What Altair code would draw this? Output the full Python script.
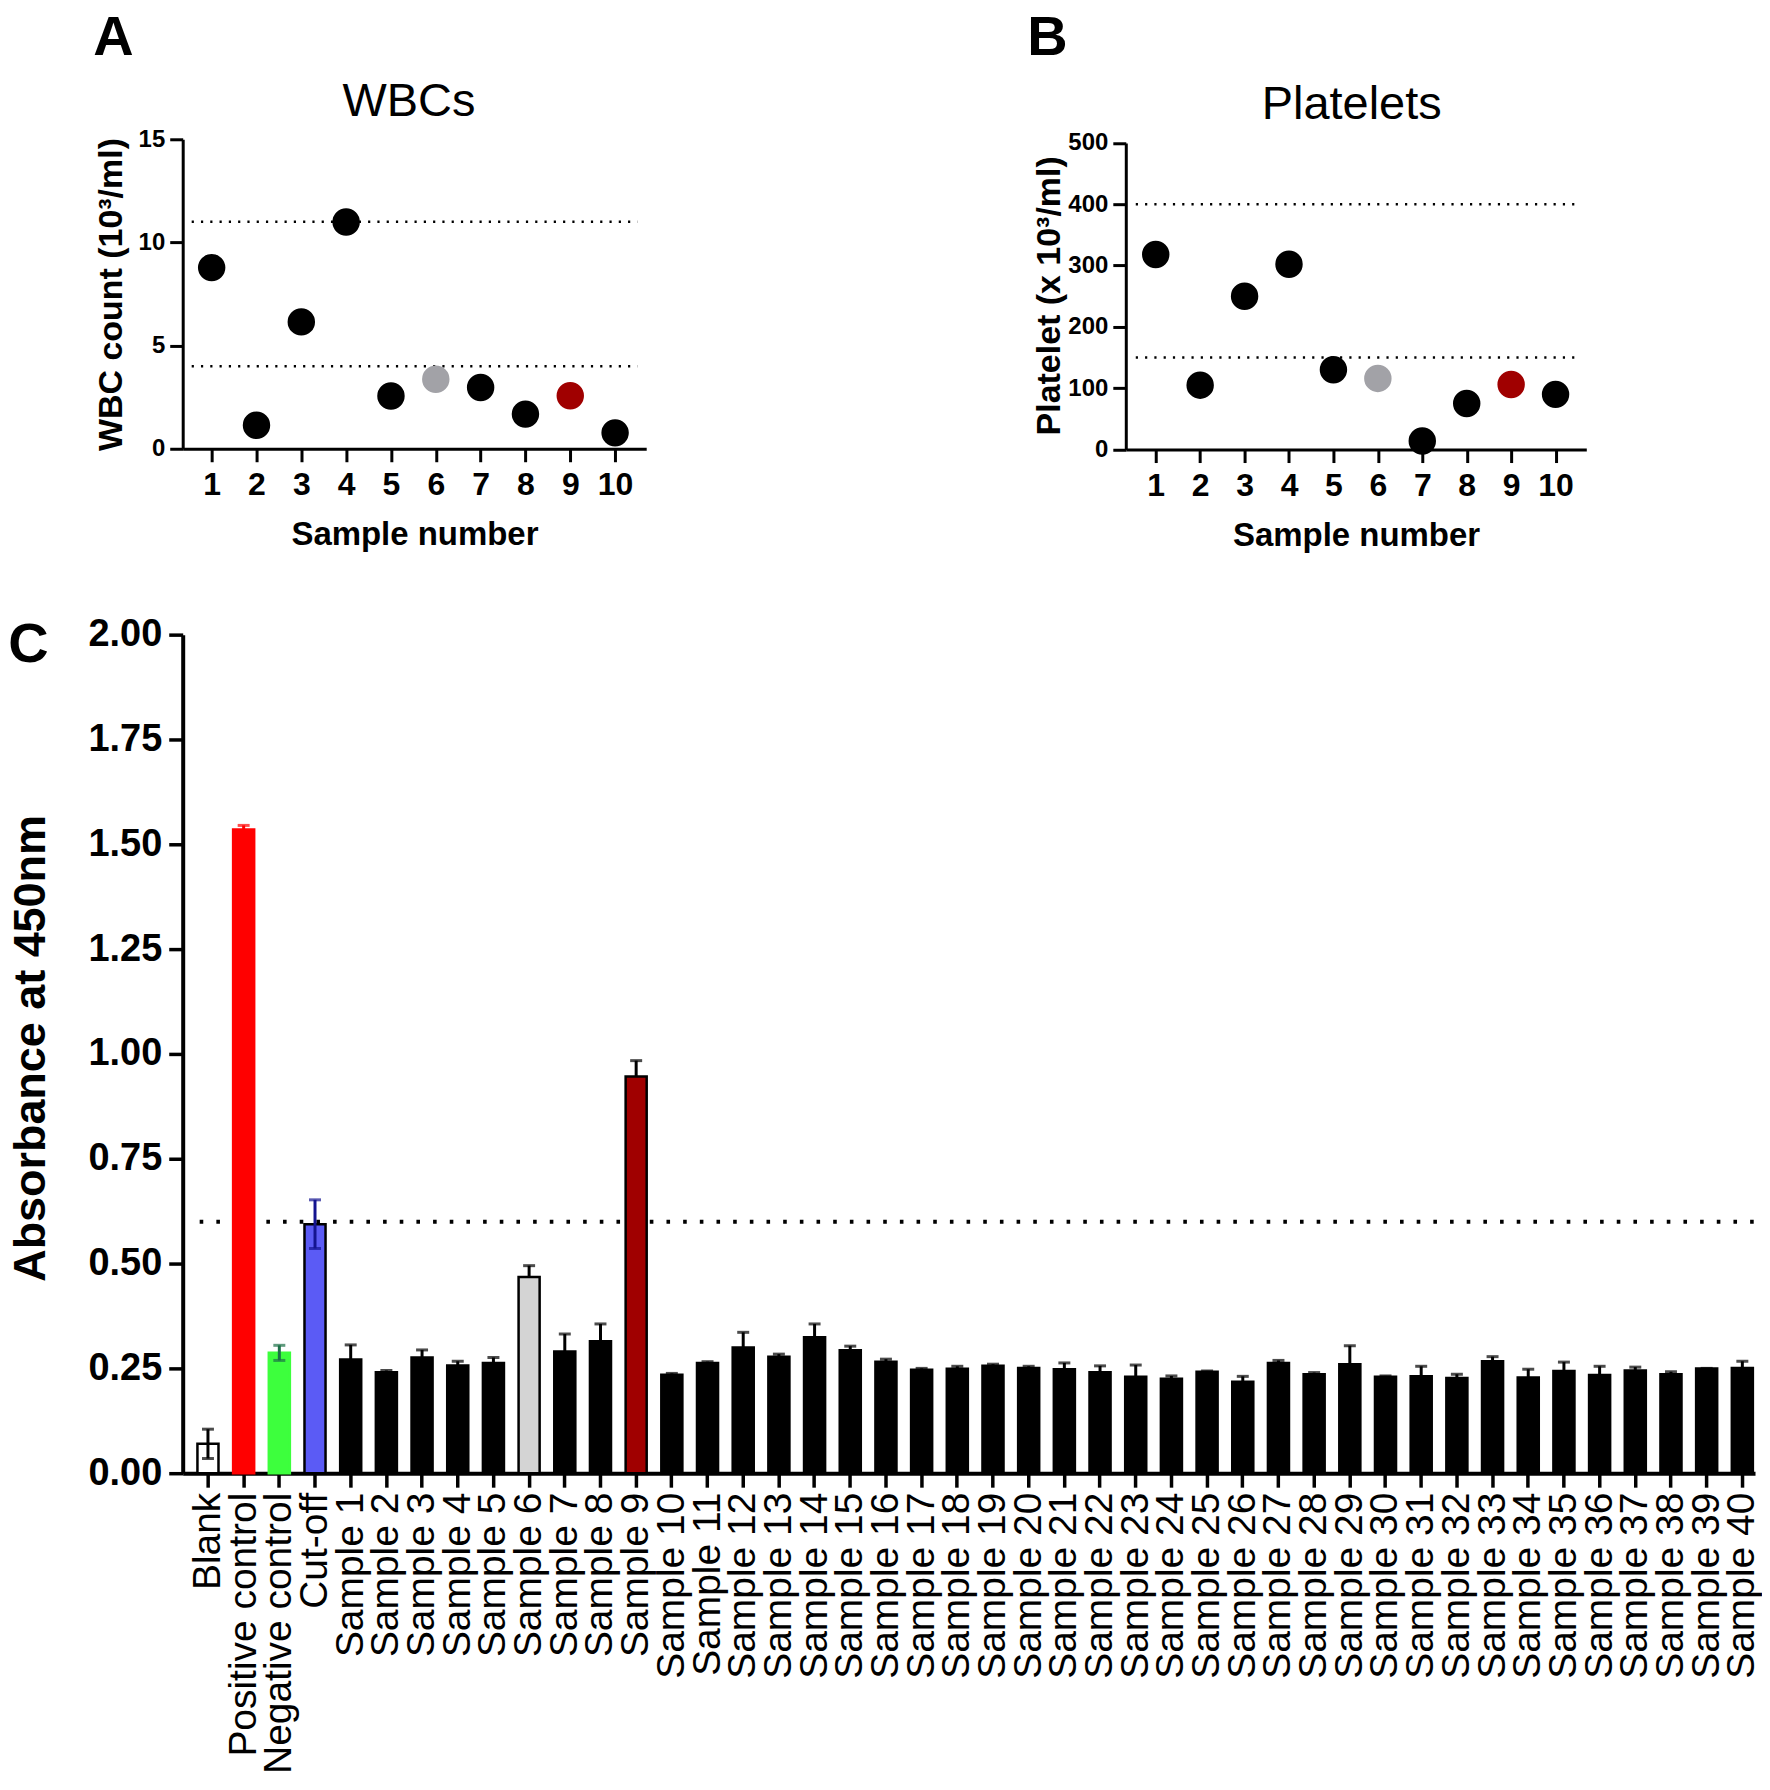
import altair as alt
import pandas as pd

# ---------------- data ----------------
sample_numbers = [1, 2, 3, 4, 5, 6, 7, 8, 9, 10]
wbc_counts = [8.78, 1.14, 6.15, 10.99, 2.56, 3.37, 2.97, 1.68, 2.57, 0.77]
platelet_counts = [318, 105, 250, 302, 130, 116, 14, 75, 106, 90]
point_group = ["other", "other", "other", "other", "other",
               "sample6", "other", "other", "sample9", "other"]
wbc_reference_limits = [4, 11]
platelet_reference_limits = [150, 400]

elisa_labels = ["Blank", "Positive control", "Negative control", "Cut-off"] + \
    [f"Sample {i}" for i in range(1, 41)]
elisa_means = [0.070, 1.535, 0.287, 0.594,
               0.271, 0.241, 0.276, 0.257, 0.263, 0.468, 0.290, 0.315, 0.946, 0.235,
               0.263, 0.300, 0.278, 0.324, 0.293, 0.266, 0.247, 0.249, 0.256, 0.251,
               0.248, 0.241, 0.230, 0.225, 0.242, 0.218, 0.263, 0.236, 0.260, 0.230,
               0.231, 0.227, 0.267, 0.228, 0.244, 0.234, 0.245, 0.236, 0.250, 0.251]
elisa_sd = [0.035, 0.010, 0.018, 0.058,
            0.035, 0.004, 0.018, 0.010, 0.013, 0.027, 0.042, 0.041, 0.038, 0.003,
            0.003, 0.036, 0.006, 0.032, 0.010, 0.006, 0.003, 0.006, 0.004, 0.004,
            0.015, 0.015, 0.028, 0.007, 0.002, 0.013, 0.006, 0.004, 0.044, 0.002,
            0.024, 0.009, 0.011, 0.020, 0.021, 0.021, 0.008, 0.006, 0.000, 0.016]
two_sided_error = ["Blank", "Negative control", "Cut-off"]
cutoff_value = [0.6]

# ---------------- styles ----------------
FONT = "Liberation Sans"
group_domain = ["other", "sample6", "sample9"]
group_colors = ["#000000", "#a2a2a7", "#a00000"]

fill_override = {"Blank": "#ffffff", "Positive control": "#ff0000",
                 "Negative control": "#3dff3d", "Cut-off": "#5b5bf5",
                 "Sample 6": "#d4d4d4", "Sample 9": "#a00000"}
stroke_override = {"Positive control": "#ff0000", "Negative control": "#3dff3d"}
err_override = {"Positive control": "#ff0000", "Negative control": "#1d7047",
                "Cut-off": "#141490"}
fill_range = [fill_override.get(l, "#000000") for l in elisa_labels]
stroke_range = [stroke_override.get(l, "#000000") for l in elisa_labels]
err_range = [err_override.get(l, "#000000") for l in elisa_labels]


def text_layer(txt, x, y, size, weight="normal", baseline="alphabetic", align="center"):
    return alt.Chart(pd.DataFrame({"t": [txt]})).mark_text(
        font=FONT, fontSize=size, fontWeight=weight, baseline=baseline,
        align=align, color="black"
    ).encode(text="t:N", x=alt.value(x), y=alt.value(y))


def scatter_panel(values, limits, y_max, y_step, y_title, panel_title, letter, *,
                  width, height, x_domain, y_range, ytitle_x, ytitle_y,
                  title_x, title_y, letter_x, line_x1, line_x2, anchor=False):
    df = pd.DataFrame({"sample": sample_numbers, "value": values, "group": point_group})
    lim = pd.DataFrame({"limit": limits})
    xaxis = alt.Axis(values=sample_numbers, format="d", labelFont=FONT, labelFontSize=32,
                     labelFontWeight="bold", labelPadding=8, labelFlush=False,
                     labelOverlap=False, tickSize=13, tickWidth=3, domainWidth=3,
                     title="Sample number", titleFont=FONT, titleFontSize=33,
                     titleFontWeight="bold", titleBaseline="alphabetic", titleY=96)
    yvals = list(range(0, y_max + 1, y_step))
    yaxis = alt.Axis(values=yvals, labelFont=FONT, labelFontSize=24, labelFontWeight="bold",
                     labelPadding=5, tickSize=13, tickWidth=3, domainWidth=3,
                     title=y_title, titleFont=FONT, titleFontSize=34, titleFontWeight="bold",
                     titleAngle=270, titleBaseline="bottom", titleAlign="center",
                     titleX=ytitle_x, titleY=ytitle_y, titleLimit=1000)
    xscale = alt.Scale(domain=x_domain, nice=False, zero=False)
    if y_range is None:
        yscale = alt.Scale(domain=[0, y_max], nice=False)
    else:
        yscale = alt.Scale(domain=[0, y_max], nice=False, range=y_range)
    lines = alt.Chart(lim).mark_rule(color="black", strokeWidth=2.4,
                                     strokeDash=[2.2, 7.1]).encode(
        y=alt.Y("limit:Q", scale=yscale, axis=yaxis),
        x=alt.value(line_x1), x2=alt.value(line_x2))
    pts = alt.Chart(df).mark_circle(size=755, opacity=1).encode(
        x=alt.X("sample:Q", scale=xscale, axis=xaxis),
        y=alt.Y("value:Q", scale=yscale, axis=yaxis),
        color=alt.Color("group:N", scale=alt.Scale(domain=group_domain, range=group_colors),
                        legend=None))
    layers = [lines, pts,
              text_layer(panel_title, title_x, title_y, 47),
              text_layer(letter, letter_x, -128.7, 56, "bold", "top", "left")]
    if anchor:
        layers.append(alt.Chart(pd.DataFrame({"a": [0]})).mark_rect(color="white").encode(
            x=alt.value(-174.7), x2=alt.value(-173.7),
            y=alt.value(-128.7), y2=alt.value(-127.7)))
    return alt.layer(*layers).properties(width=width, height=height)


A_WIDTH = 464.3
panel_a = scatter_panel(wbc_counts, wbc_reference_limits, 15, 5,
                        "WBC count (10³/ml)", "WBCs", "A",
                        width=A_WIDTH, height=310, x_domain=[0.354, 10.694], y_range=None,
                        ytitle_x=-53.9, ytitle_y=155, title_x=226.6, title_y=-23.4,
                        letter_x=-89.7, line_x1=9, line_x2=455.6, anchor=True)
panel_b = scatter_panel(platelet_counts, platelet_reference_limits, 500, 100,
                        "Platelet (x 10³/ml)", "Platelets", "B",
                        width=461.3, height=310.8, x_domain=[0.326, 10.692],
                        y_range=[310.8, 3.6],
                        ytitle_x=-59.7, ytitle_y=156.3, title_x=226.3, title_y=-20.7,
                        letter_x=-98.7, line_x1=10, line_x2=452.6)

# ---------------- panel C ----------------
C_RANGE = 1575
dfC = pd.DataFrame({"label": elisa_labels, "mean": elisa_means, "sd": elisa_sd})
dfC["hi"] = dfC["mean"] + dfC["sd"]
dfC["lo"] = [m - s if l in two_sided_error else m
             for l, m, s in zip(elisa_labels, elisa_means, elisa_sd)]
dfC["two"] = [l in two_sided_error for l in elisa_labels]

xC_scale = alt.Scale(domain=elisa_labels, range=[0, C_RANGE],
                     paddingInner=0.41, paddingOuter=0.2365, align=0.873)
xC_axis = alt.Axis(labelAngle=270, labelAlign="right", labelBaseline="middle",
                   labelFont=FONT, labelFontSize=39, labelFontWeight="normal",
                   labelPadding=5, labelOverlap=False, labelLimit=600, labelBound=False,
                   tickSize=14, tickWidth=3.5, domainWidth=4, title=None)
yC_scale = alt.Scale(domain=[0, 2], nice=False)
yC_axis = alt.Axis(values=[0, 0.25, 0.5, 0.75, 1.0, 1.25, 1.5, 1.75, 2.0], format=".2f",
                   labelFont=FONT, labelFontSize=38, labelFontWeight="bold", labelPadding=7,
                   tickSize=14, tickWidth=3.5, domainWidth=4,
                   title="Absorbance at 450nm", titleFont=FONT, titleFontSize=45,
                   titleFontWeight="bold", titleAngle=270, titleBaseline="bottom",
                   titleAlign="center", titleX=-129.2, titleY=414, titleLimit=1000)
xC = alt.X("label:N", scale=xC_scale, sort=None, axis=xC_axis)
xC_plain = alt.X("label:N", scale=xC_scale, sort=None)

cut_line = alt.Chart(pd.DataFrame({"cut": cutoff_value})).mark_rule(
    color="black", strokeWidth=4, strokeDash=[3.6, 13.1]).encode(
    y=alt.Y("cut:Q", scale=yC_scale, axis=yC_axis),
    x=alt.value(17), x2=alt.value(C_RANGE))
bars = alt.Chart(dfC).mark_bar(strokeWidth=2.5).encode(
    x=xC,
    y=alt.Y("mean:Q", scale=yC_scale, axis=yC_axis),
    fill=alt.Fill("label:N", scale=alt.Scale(domain=elisa_labels, range=fill_range), legend=None),
    stroke=alt.Stroke("label:N", scale=alt.Scale(domain=elisa_labels, range=stroke_range),
                      legend=None))
err_color = alt.Color("label:N", scale=alt.Scale(domain=elisa_labels, range=err_range),
                      legend=None)
stems = alt.Chart(dfC).mark_rule(strokeWidth=3).encode(
    x=xC_plain, y=alt.Y("lo:Q", scale=yC_scale, axis=yC_axis), y2="hi:Q", color=err_color)
caps_top = alt.Chart(dfC).mark_tick(thickness=3, size=12).encode(
    x=xC_plain, y=alt.Y("hi:Q", scale=yC_scale, axis=yC_axis), color=err_color)
caps_low = alt.Chart(dfC).transform_filter("datum.two").mark_tick(thickness=3, size=12).encode(
    x=xC_plain, y=alt.Y("lo:Q", scale=yC_scale, axis=yC_axis), color=err_color)

panel_c = alt.layer(
    cut_line, bars, stems, caps_top, caps_low,
    text_layer("C", -174.7, -16.8, 56, "bold", "top", "left")
).properties(width=A_WIDTH, height=840)

chart = alt.concat(
    panel_a, panel_b, panel_c, columns=2,
    spacing={"row": 185.2, "column": 479.7}, bounds="flush", align="each"
).resolve_scale(
    color="independent", fill="independent", stroke="independent"
).properties(padding=0).configure_view(stroke=None).configure_axis(
    grid=False, labelColor="black", titleColor="black", domainColor="black", tickColor="black")

chart.save("out.html", embed_options={"renderer": "svg", "actions": False})
